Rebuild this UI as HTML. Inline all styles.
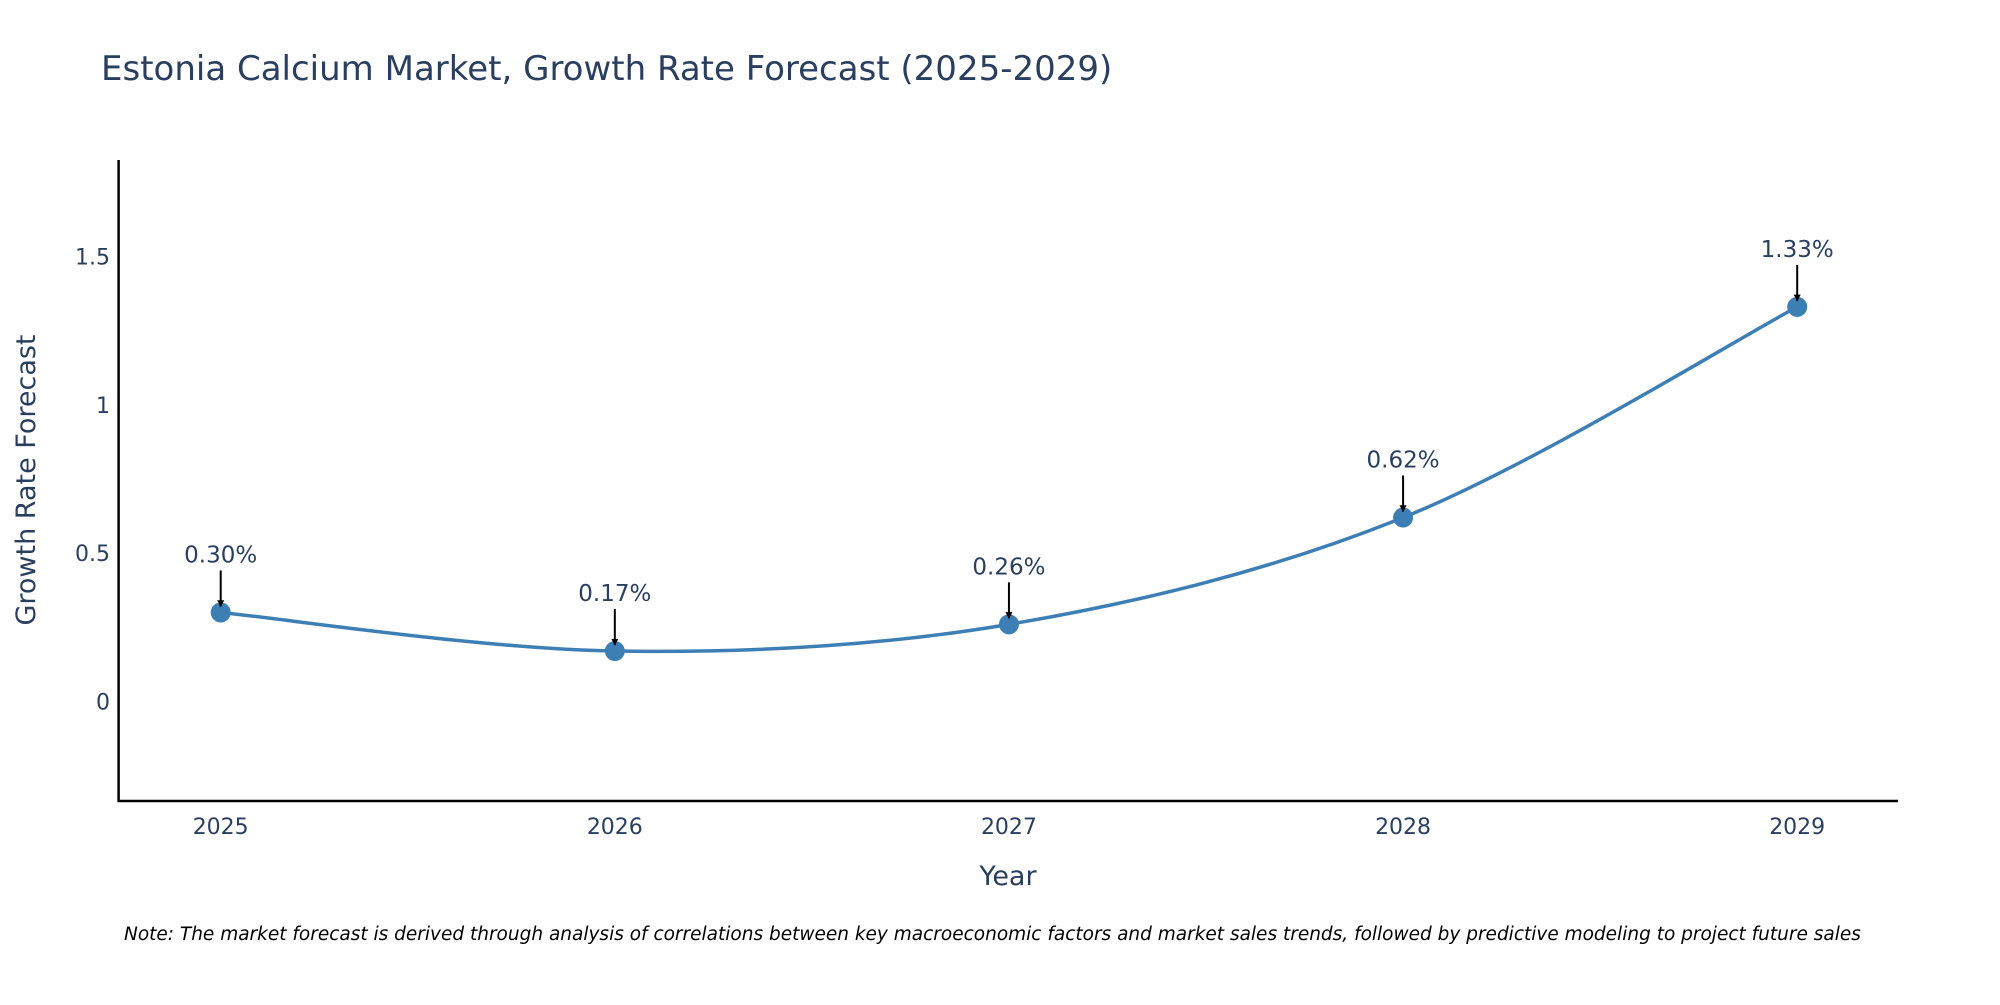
<!DOCTYPE html>
<html><head><meta charset="utf-8"><style>
body{margin:0;background:#fff;}
svg text{font-family:"DejaVu Sans","Liberation Sans",sans-serif;fill:#2a3f5f;}
</style></head><body>
<svg id="chart" width="2000" height="1000" xmlns="http://www.w3.org/2000/svg">
<rect width="2000" height="1000" fill="#fff"/>
<text x="101" y="80" font-size="34">Estonia Calcium Market, Growth Rate Forecast (2025-2029)</text>
<g id="yticks"></g>
<g id="xticks"></g>
<line x1="118.6" y1="160" x2="118.6" y2="802" stroke="#000" stroke-width="2.5"/>
<line x1="117.5" y1="801" x2="1898" y2="801" stroke="#000" stroke-width="2.5"/>
<path id="line" fill="none" stroke="#3d7fb5" stroke-width="3.5"/>
<g id="marks"></g>
<g id="ann"></g>
<text x="1008" y="885" font-size="27" text-anchor="middle">Year</text>
<text transform="translate(35,480) rotate(-90)" font-size="27" text-anchor="middle">Growth Rate Forecast</text>
<text x="124" y="940" font-size="18.5" font-style="italic" style="fill:#000">Note: The market forecast is derived through analysis of correlations between key macroeconomic factors and market sales trends, followed by predictive modeling to project future sales</text>
<defs><marker id="ah" viewBox="0 0 10 10" refX="9" refY="5" markerWidth="7" markerHeight="7" markerUnits="userSpaceOnUse" orient="auto"><path d="M0,0L10,5L0,10z" fill="#000"/></marker></defs>
</svg>
<script>
const years=[2025,2026,2027,2028,2029];
const values=[0.30,0.17,0.26,0.62,1.33];
const labels=["0.30%","0.17%","0.26%","0.62%","1.33%"];
const yTicks=[0,0.5,1,1.5];
const yTickLabels=["0","0.5","1","1.5"];
const NS="http://www.w3.org/2000/svg";
const xS=v=>220.7+(v-2025)*(1797.2-220.7)/4;
const yS=v=>701.5-v*296.7;
function mk(t,a,p){const e=document.createElementNS(NS,t);for(const k in a)e.setAttribute(k,a[k]);p.appendChild(e);return e;}
const yt=document.getElementById('yticks');
yTicks.forEach((t,i)=>{const e=mk('text',{x:110,y:yS(t)+8,'font-size':22,'text-anchor':'end'},yt);e.textContent=yTickLabels[i];

});
const xt=document.getElementById('xticks');
years.forEach(y=>{const e=mk('text',{x:xS(y),y:834,'font-size':22,'text-anchor':'middle'},xt);e.textContent=String(y);

});
const pts=years.map((y,i)=>[xS(y),yS(values[i])]);
let d='M'+pts[0][0]+','+pts[0][1];
for(let i=0;i<pts.length-1;i++){const p0=pts[Math.max(i-1,0)],p1=pts[i],p2=pts[i+1],p3=pts[Math.min(i+2,pts.length-1)];
const c1=[p1[0]+(p2[0]-p0[0])/6,p1[1]+(p2[1]-p0[1])/6],c2=[p2[0]-(p3[0]-p1[0])/6,p2[1]-(p3[1]-p1[1])/6];
d+=' C'+c1+' '+c2+' '+p2;}
document.getElementById('line').setAttribute('d',d);
const mg=document.getElementById('marks'),ag=document.getElementById('ann');
pts.forEach((p,i)=>{const c=mk('circle',{cx:p[0],cy:p[1],r:10,fill:'#3d7fb5'},mg);


const l=mk('line',{x1:p[0],y1:p[1]-42,x2:p[0],y2:p[1]-6,stroke:'#000','stroke-width':2,'marker-end':'url(#ah)'},ag);


const t=mk('text',{x:p[0],y:p[1]-50,'font-size':23,'text-anchor':'middle'},ag);t.textContent=labels[i];

});
</script>
</body></html>
